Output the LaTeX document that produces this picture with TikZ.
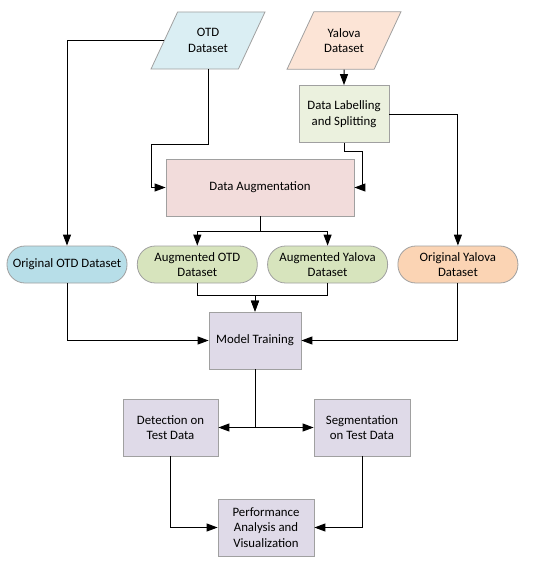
\documentclass[tikz,border=0pt]{standalone}
\usepackage{fontspec}
\setmainfont{Carlito}
\usepackage{tikz}
\usetikzlibrary{arrows.meta,positioning,shapes.geometric}
\usepackage{xcolor}
\definecolor{FlowEdge}{HTML}{A0A0A0}
\definecolor{OtdBlue}{HTML}{DAEEF3}
\definecolor{OtdDeep}{HTML}{B7DEE8}
\definecolor{YalPeach}{HTML}{FCE4D6}
\definecolor{YalDeep}{HTML}{FBD4B4}
\definecolor{LabGreen}{HTML}{EBF1DE}
\definecolor{AugGreen}{HTML}{D7E4BD}
\definecolor{AugPink}{HTML}{F2DCDB}
\definecolor{TrainLilac}{HTML}{DFDAE8}

\begin{document}
\begin{tikzpicture}[x=1pt,y=-1pt,node distance=9.5pt,
    every node/.style={font=\fontsize{12.8}{15.7}\selectfont,align=center,draw=FlowEdge,line width=0.8pt,inner sep=2pt},
    datain/.style={trapezium,trapezium left angle=65,trapezium right angle=115,trapezium stretches body,inner ysep=16.5pt,minimum width=114pt,minimum height=57pt},
    procbox/.style={rectangle,minimum height=57pt},
    setbox/.style={rectangle,rounded corners=18pt,minimum width=120pt,minimum height=37pt},
    flow/.style={draw=black,line width=1pt,-{Triangle[length=11pt,width=8pt]}}]
    \useasboundingbox (0,0) rectangle (550,565);
    \node[datain,fill=OtdBlue] (otd) at (208,40.5) {OTD\\Dataset};
    \node[datain,fill=YalPeach] (yalova) at (344,40.5) {Yalova\\Dataset};
    \node[procbox,fill=LabGreen,minimum width=90pt] (label) at (344,114) {Data Labelling\\and Splitting};
    \node[procbox,fill=AugPink,minimum width=188pt] (aug) at (260,187.5) {Data Augmentation};
    \node[setbox,fill=OtdDeep] (origotd) at (67,264.5) {Original OTD Dataset};
    \node[setbox,fill=AugGreen,right=of origotd] (augotd) {Augmented OTD\\Dataset};
    \node[setbox,fill=AugGreen,right=of augotd] (augyal) {Augmented Yalova\\Dataset};
    \node[setbox,fill=YalDeep,right=of augyal] (origyal) {Original Yalova\\Dataset};
    \node[procbox,fill=TrainLilac,minimum width=92pt] (train) at (255,340.5) {Model Training};
    \node[procbox,fill=TrainLilac,minimum width=95pt] (detect) at (170.5,427.5) {Detection on\\Test Data};
    \node[procbox,fill=TrainLilac,minimum width=96pt] (segment) at (362,427.5) {Segmentation\\on Test Data};
    \node[procbox,fill=TrainLilac,minimum width=96pt] (perf) at (266,527.5) {Performance\\Analysis and\\Visualization};
    % inputs
    \draw[flow] (yalova.south)--(label.north);
    \draw[flow] (otd.west) -| (origotd.north);
    \draw[flow] (otd.south) -- ++(0,75) -| ([xshift=-14pt]aug.west) -- (aug.west);
    \draw[flow] (label.south) -- ++(0,9) -| ([xshift=8pt]aug.east) -- (aug.east);
    \draw[flow] (label.east) -| (origyal.north);
    % augmentation outputs
    \draw[flow] (aug.south) -- ++(0,15) -| (augotd.north);
    \draw[flow] (aug.south) -- ++(0,15) -| (augyal.north);
    % training
    \draw[flow] (augotd.south) -- ++(0,12) -| (train.north);
    \draw[flow] (augyal.south) -- ++(0,12) -| (train.north);
    \draw[flow] (origotd.south) |- (train.west);
    \draw[flow] (origyal.south) |- (train.east);
    % evaluation
    \draw[flow] (train.south) |- (detect.east);
    \draw[flow] (train.south) |- (segment.west);
    \draw[flow] (detect.south) |- (perf.west);
    \draw[flow] (segment.south) |- (perf.east);
  \end{tikzpicture}
\end{document}
